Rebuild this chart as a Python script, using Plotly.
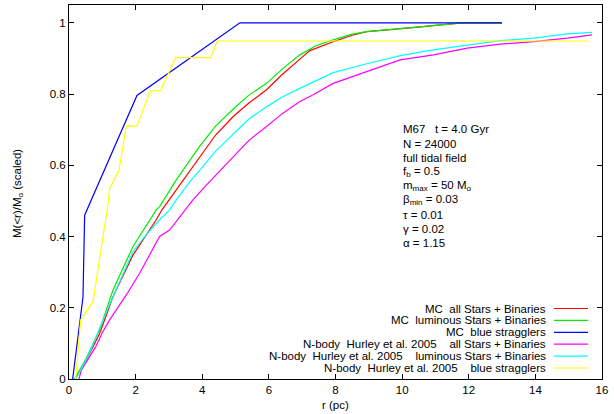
import plotly.graph_objects as go

# ---- data ----
mc_all_r = [0.17, 0.5, 0.92, 1.32, 1.92, 2.3, 2.62, 2.79, 3.32, 3.92, 4.4, 4.93, 5.4, 5.93, 6.4, 6.93, 7.23, 7.93, 8.5, 8.94, 9.94, 10.5, 11.0, 11.8, 13.0]
mc_all_m = [0.0, 0.05, 0.128, 0.231, 0.348, 0.40, 0.447, 0.475, 0.545, 0.624, 0.685, 0.737, 0.775, 0.812, 0.855, 0.898, 0.922, 0.947, 0.965, 0.975, 0.982, 0.988, 0.993, 1.0, 1.0]

mc_lum_r = [0.17, 0.5, 0.92, 1.32, 1.92, 2.3, 2.62, 2.72, 3.22, 3.92, 4.4, 4.93, 5.4, 5.93, 6.4, 6.93, 7.4, 7.93, 8.5, 8.94, 9.34, 10.33, 11.0, 11.8, 13.0]
mc_lum_m = [0.0, 0.055, 0.138, 0.25, 0.372, 0.43, 0.475, 0.484, 0.559, 0.653, 0.71, 0.758, 0.797, 0.83, 0.87, 0.91, 0.935, 0.952, 0.968, 0.975, 0.978, 0.987, 0.993, 1.0, 1.0]

mc_bs_r = [0.11, 0.42, 0.47, 2.04, 5.13, 13.0]
mc_bs_m = [0.0, 0.23, 0.46, 0.796, 1.0, 1.0]

nb_all_r = [0.3, 0.37, 0.8, 1.0, 1.22, 1.72, 2.12, 2.72, 3.02, 3.72, 4.13, 4.93, 5.4, 5.93, 6.4, 6.93, 7.33, 7.93, 8.94, 9.94, 10.94, 11.95, 12.95, 13.95, 14.96, 15.7]
nb_all_m = [0.0, 0.025, 0.09, 0.13, 0.166, 0.236, 0.297, 0.40, 0.418, 0.503, 0.545, 0.624, 0.67, 0.709, 0.745, 0.779, 0.798, 0.83, 0.863, 0.896, 0.91, 0.929, 0.94, 0.947, 0.957, 0.966]

nb_lum_r = [0.21, 0.6, 1.02, 1.5, 1.92, 2.27, 2.72, 3.02, 3.22, 3.67, 3.92, 4.4, 4.93, 5.4, 5.93, 6.4, 6.93, 7.93, 8.94, 9.94, 10.94, 11.95, 12.95, 13.95, 14.96, 15.7]
nb_lum_m = [0.0, 0.07, 0.166, 0.27, 0.358, 0.40, 0.447, 0.475, 0.503, 0.559, 0.585, 0.64, 0.688, 0.73, 0.764, 0.792, 0.816, 0.86, 0.885, 0.908, 0.924, 0.938, 0.95, 0.957, 0.969, 0.973]

nb_bs_r = [0.2, 0.35, 0.72, 1.17, 1.22, 1.5, 1.72, 2.04, 2.44, 2.75, 3.2, 4.25, 4.45, 15.6]
nb_bs_m = [0.0, 0.166, 0.217, 0.49, 0.535, 0.585, 0.71, 0.71, 0.809, 0.809, 0.9025, 0.9025, 0.949, 0.949]

series_names = [
    "MC\u00a0\u00a0all Stars + Binaries",
    "MC\u00a0\u00a0luminous Stars + Binaries",
    "MC\u00a0\u00a0blue stragglers",
    "N-body\u00a0\u00a0Hurley et al. 2005\u00a0\u00a0\u00a0\u00a0all Stars + Binaries",
    "N-body\u00a0\u00a0Hurley et al. 2005\u00a0\u00a0\u00a0\u00a0luminous Stars + Binaries",
    "N-body\u00a0\u00a0Hurley et al. 2005\u00a0\u00a0\u00a0\u00a0blue stragglers",
]
series_colors = ["#ff0000", "#00ee00", "#0000ff", "#ff00ff", "#00ffff", "#ffff00"]
series_data = [(mc_all_r, mc_all_m), (mc_lum_r, mc_lum_m), (mc_bs_r, mc_bs_m),
               (nb_all_r, nb_all_m), (nb_lum_r, nb_lum_m), (nb_bs_r, nb_bs_m)]

x_ticks = [0, 2, 4, 6, 8, 10, 12, 14, 16]
y_ticks = [0, 0.2, 0.4, 0.6, 0.8, 1]
y_tick_labels = ["0", "0.2", "0.4", "0.6", "0.8", "1"]

info_lines = [
    "M67\u00a0\u00a0\u00a0t = 4.0 Gyr",
    "N = 24000",
    "full tidal field",
    "f<sub>b</sub> = 0.5",
    "m<sub>max</sub> = 50 M<sub>o</sub>",
    "\u03b2<sub>min</sub> = 0.03",
    "\u03c4 = 0.01",
    "\u03b3 = 0.02",
    "\u03b1 = 1.15",
]

FONT = "Liberation Sans, Arial, Helvetica, sans-serif"
FS = 11.5

fig = go.Figure()
for (xs, ys), name, col in zip(series_data, series_names, series_colors):
    fig.add_trace(go.Scatter(x=xs, y=ys, mode="lines", name=name,
                             line=dict(color=col, width=1.2), showlegend=False))

W, H = 614, 414
L, R, T, B = 69, 12, 5, 35
pw, ph = W - L - R, H - T - B

def px(x):
    return (x - L) / pw

def py(y):
    return (H - B - y) / ph

annotations = []
shapes = []
# custom gnuplot-style legend
for i, (name, col) in enumerate(zip(series_names, series_colors)):
    yy = 308.5 + i * 11.9
    annotations.append(dict(x=px(548), y=py(yy), xref="paper", yref="paper",
                            text=name, showarrow=False, xanchor="right", yanchor="middle",
                            font=dict(size=FS, color="#000000", family=FONT)))
    shapes.append(dict(type="line", xref="paper", yref="paper",
                       x0=px(554), x1=px(588), y0=py(yy), y1=py(yy),
                       line=dict(color=col, width=1.2)))

# info text block
for i, t in enumerate(info_lines):
    yy = 129.3 + i * 14.2
    annotations.append(dict(x=px(401), y=py(yy), xref="paper", yref="paper",
                            text=t, showarrow=False, xanchor="left", yanchor="middle",
                            font=dict(size=FS, color="#000000", family=FONT)))

# axis titles
annotations.append(dict(x=px(335), y=py(405), xref="paper", yref="paper",
                        text="r (pc)", showarrow=False, xanchor="center", yanchor="middle",
                        font=dict(size=FS, color="#000000", family=FONT)))
annotations.append(dict(x=px(18), y=py(194), xref="paper", yref="paper",
                        text="M(&lt;r)/M<sub>o</sub> (scaled)", showarrow=False, textangle=-90,
                        xanchor="center", yanchor="middle",
                        font=dict(size=FS, color="#000000", family=FONT)))

fig.update_layout(
    width=W, height=H,
    margin=dict(l=L, r=R, t=T, b=B),
    paper_bgcolor="white", plot_bgcolor="white",
    font=dict(family=FONT, size=FS, color="#000000"),
    annotations=annotations, shapes=shapes,
    xaxis=dict(range=[0, 16], tickvals=x_ticks, ticks="inside", ticklen=5,
               showline=True, linecolor="black", linewidth=1, mirror="ticks",
               showgrid=False, zeroline=False, tickcolor="black",
               tickfont=dict(size=FS, family=FONT, color="#000000")),
    yaxis=dict(range=[0, 1.05], tickvals=y_ticks, ticktext=y_tick_labels,
               ticks="inside", ticklen=5,
               showline=True, linecolor="black", linewidth=1, mirror="ticks",
               showgrid=False, zeroline=False, tickcolor="black",
               tickfont=dict(size=FS, family=FONT, color="#000000")),
)

fig.write_html("out.html")
